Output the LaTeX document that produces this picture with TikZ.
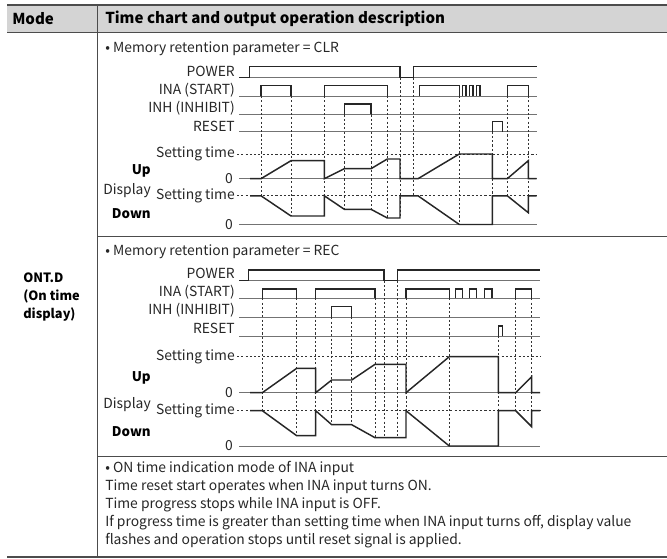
\documentclass[tikz,border=0pt]{standalone}
\usepackage{fontspec}
\setmainfont{Noto Sans CJK KR}
\usepackage{tikz}
\usetikzlibrary{positioning}

\begin{document}
\begin{tikzpicture}[
  x=0.75pt, y=-0.75pt,
  every node/.style={font=\fontsize{10.4}{13.5}\selectfont, inner sep=0pt, text=black!85},
  head/.style={font=\fontsize{11.3}{13.5}\selectfont\bfseries, anchor=west, text=black},
  sig/.style={anchor=east},
  axis/.style={anchor=east},
  side/.style={anchor=east, font=\fontsize{10}{13.5}\selectfont\bfseries, text=black},
  rule/.style={draw=black!70, line width=0.8pt},
  base/.style={draw=black!55, line width=0.6pt},
  wave/.style={draw=black!85, line width=1.1pt, line join=miter},
  guide/.style={draw=black!80, line width=0.5pt, dash pattern=on 1.6pt off 1.6pt},
  level/.style={draw=black!80, line width=0.5pt, dash pattern=on 1.6pt off 1.6pt}
]
\useasboundingbox (0,0) rectangle (667,559);

% table frame
\fill[black!17] (7,5) rectangle (667,32.7);
\draw[rule, line width=1pt] (7,5) -- (667,5);
\draw[rule] (7,32.7) -- (667,32.7);
\draw[rule] (97.7,5) -- (97.7,557);
\draw[rule] (97.7,236.7) -- (667,236.7);
\draw[rule] (97.7,456.7) -- (667,456.7);
\draw[rule] (7,557) -- (667,557);

\node[head] (mode) at (12,19) {Mode};
\node[head] (desc) at (105,19) {Time chart and output operation description};
\node[anchor=west, align=left, text=black, font=\fontsize{9.6}{13.5}\selectfont\bfseries] (ontd) at (23,297)
  {ONT.D\\(On time\\display)};

%% ---------- chart 1 : CLR ----------
\node[anchor=west] (clr) at (105,48.3) {• Memory retention parameter = CLR};

\node[sig] (pw1) at (235,71.7) {POWER};
\node[sig] (ina1) at (235,90) {INA (START)};
\node[sig] (inh1) at (235,108.3) {INH (INHIBIT)};
\node[sig] (rst1) at (235,126) {RESET};
\node[axis] (su1) at (235,154) {Setting time};
\node[side] (up1) at (151,170.7) {Up};
\node[axis] (zu1) at (233,179) {0};
\node[axis] (dsp1) at (151,191) {Display};
\node[axis] (sd1) at (235,195.5) {Setting time};
\node[side] (dn1) at (151,213.3) {Down};
\node[axis] (zd1) at (233,224.3) {0};

% base lines and levels
\foreach \y in {77.7,96,114.5,131.7,178.7,224.5}
  \draw[base] (239,\y) -- (536.7,\y);
\draw[level] (237,154) -- (536.7,154);
\draw[level] (237,195.8) -- (536.7,195.8);

% guide lines
\foreach \x/\a/\b in {261/96/195.8, 291/96/216, 324.3/96/216, 344.3/114.5/209.3,
  371/114.5/209.3, 387.3/96/218, 400/77.7/218, 413.3/77.7/195.8,
  459.3/96/224.5, 492.3/131.7/224.5, 507.3/96/195.8, 528.3/96/212.7}
  \draw[guide] (\x,\a) -- (\x,\b);

% signals
\draw[wave] (239,77.7) -- (249.3,77.7) -- (249.3,66.5) -- (400,66.5) -- (400,77.7)
  -- (413.3,77.7) -- (413.3,66.5) -- (536.7,66.5);
\foreach \a/\b in {261/291, 324.3/387.3, 419.3/459.3, 462.3/466, 469.3/473,
  476.3/480, 507.3/528.3}
  \draw[wave] (\a,96) -- (\a,85.7) -- (\b,85.7) -- (\b,96);
\draw[wave] (344.3,114.5) -- (344.3,104) -- (371,104) -- (371,114.5);
\draw[wave] (492.3,131.7) -- (492.3,121.7) -- (502.7,121.7) -- (502.7,131.7);

% display
\draw[wave] (250,178.7) -- (261,178.7) -- (291,160.7) -- (324.3,160.7) -- (324.3,178.7)
  -- (344.3,168.7) -- (371,168.7) -- (387.3,159) -- (400,159) -- (400,178.7)
  -- (418,178.7) -- (459.3,154) -- (492.3,154) -- (492.3,178.7) -- (507.3,178.7)
  -- (528.3,160.7) -- (528.3,178.7) -- (536.7,178.7);
\draw[wave] (250,195.8) -- (261,195.8) -- (291,216) -- (324.3,216) -- (324.3,195.8)
  -- (344.3,209.3) -- (371,209.3) -- (387.3,218) -- (400,218) -- (400,195.8)
  -- (418,195.8) -- (459.3,224.5) -- (492.3,224.5) -- (492.3,195.8) -- (507.3,195.8)
  -- (528.3,212.7) -- (528.3,195.8) -- (536.7,195.8);

%% ---------- chart 2 : REC ----------
\node[anchor=west] (rec) at (105,251.7) {• Memory retention parameter = REC};

\node[sig] (pw2) at (235,273.5) {POWER};
\node[sig] (ina2) at (235,291.7) {INA (START)};
\node[sig] (inh2) at (235,310) {INH (INHIBIT)};
\node[sig] (rst2) at (235,328.3) {RESET};
\node[axis] (su2) at (235,357) {Setting time};
\node[side] (up2) at (151,378.3) {Up};
\node[axis] (zu2) at (233,392.5) {0};
\node[axis] (dsp2) at (151,405) {Display};
\node[axis] (sd2) at (235,410.5) {Setting time};
\node[side] (dn2) at (151,431.7) {Down};
\node[axis] (zd2) at (233,445.5) {0};

\foreach \y in {280.7,298.3,317.3,336,392.7,446}
  \draw[base] (239,\y) -- (540,\y);
\draw[level] (237,356.7) -- (540,356.7);
\draw[level] (237,410.7) -- (540,410.7);

\foreach \x/\a/\b in {262.3/298.3/410.7, 296.7/298.3/435.7, 315.7/298.3/410.7,
  331.7/317.3/424.7, 351.7/317.3/424.7, 375/298.3/437.7, 384/280.7/437.7,
  397.3/280.7/437.7, 406/298.3/410.7, 449.3/298.3/446, 498.3/336/446,
  515.7/298.3/410.7, 531.7/298.3/426.7}
  \draw[guide] (\x,\a) -- (\x,\b);

\draw[wave] (239,280.7) -- (248.3,280.7) -- (248.3,270) -- (384,270) -- (384,280.7)
  -- (397.3,280.7) -- (397.3,270) -- (540,270);
\foreach \a/\b in {262.3/296.7, 315.7/375, 406/449.3, 455.7/462.7, 469.3/476.7,
  484.3/492, 515.7/531.7}
  \draw[wave] (\a,298.3) -- (\a,289) -- (\b,289) -- (\b,298.3);
\draw[wave] (331.7,317.3) -- (331.7,306.7) -- (351.7,306.7) -- (351.7,317.3);
\draw[wave] (498.3,336) -- (498.3,326) -- (502.7,326) -- (502.7,336);

\draw[wave] (250,392.7) -- (262.3,392.7) -- (296.7,368.3) -- (315.7,368.3) -- (315.7,392.7)
  -- (331.7,380) -- (351.7,380) -- (375,364.3) -- (406,364.3) -- (406,392.7)
  -- (449.3,356.7) -- (498.3,356.7) -- (498.3,392.7) -- (515.7,392.7)
  -- (531.7,376.7) -- (531.7,392.7) -- (540,392.7);
\draw[wave] (250,410.7) -- (262.3,410.7) -- (296.7,435.7) -- (315.7,435.7) -- (315.7,410.7)
  -- (331.7,424.7) -- (351.7,424.7) -- (375,437.7) -- (406,437.7) -- (406,410.7)
  -- (449.3,446) -- (498.3,446) -- (498.3,410.7) -- (515.7,410.7)
  -- (531.7,426.7) -- (531.7,410.7) -- (540,410.7);

%% ---------- description ----------
\node[anchor=north west, align=left] (note) at (105,461)
  {• ON time indication mode of INA input\\
   Time reset start operates when INA input turns ON.\\
   Time progress stops while INA input is OFF.\\
   If progress time is greater than setting time when INA input turns off, display value\\
   flashes and operation stops until reset signal is applied.};
\end{tikzpicture}
\end{document}
